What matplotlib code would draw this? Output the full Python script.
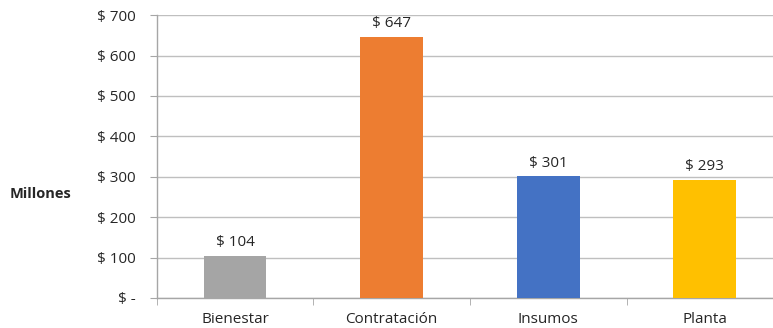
import matplotlib
matplotlib.use("Agg")
import matplotlib.pyplot as plt
from matplotlib.ticker import FixedLocator, FuncFormatter

categories = ["Bienestar", "Contratación", "Insumos", "Planta"]
values = [104, 647, 301, 293]
colors = ["#A5A5A5", "#ED7D31", "#4472C4", "#FFC000"]
y_ticks = [0, 100, 200, 300, 400, 500, 600, 700]

plt.rcParams["font.family"] = ["Open Sans", "DejaVu Sans"]

fig = plt.figure(figsize=(7.73, 3.28), dpi=100)
ax = fig.add_axes([0.203, 0.0915, 1.013 - 0.203, 0.954 - 0.0915])

x = list(range(len(categories)))
ax.bar(x, values, width=0.40, color=colors, zorder=3)

for xi, v in zip(x, values):
    ax.text(xi, v + 14, f"$ {v}", ha="center", va="bottom",
            fontsize=11, color="#262626")

ax.set_xlim(-0.5, len(categories) - 0.5)
ax.set_ylim(0, 700)
ax.set_yticks(y_ticks)
ax.yaxis.set_major_formatter(FuncFormatter(lambda v, p: "$ -" if v == 0 else f"$ {int(v)}"))
ax.set_xticks(x)
ax.set_xticklabels(categories)
ax.xaxis.set_minor_locator(FixedLocator([i - 0.5 for i in range(len(categories) + 1)]))

ax.grid(axis="y", color="#BFBFBF", linewidth=1.0, zorder=0)
for side in ["top", "right"]:
    ax.spines[side].set_visible(False)
for side in ["left", "bottom"]:
    ax.spines[side].set_color("#A6A6A6")
    ax.spines[side].set_linewidth(1.0)

ax.tick_params(axis="y", length=5, color="#A6A6A6", labelsize=11,
               labelcolor="#262626", pad=10)
ax.tick_params(axis="x", which="major", length=0, labelsize=11,
               labelcolor="#262626", pad=10)
ax.tick_params(axis="x", which="minor", length=5, color="#A6A6A6")

fig.text(0.013, 0.41, "Millones", fontsize=10.5, fontweight="bold",
         color="#262626", ha="left", va="center")

fig.savefig("out.png", dpi=100)
